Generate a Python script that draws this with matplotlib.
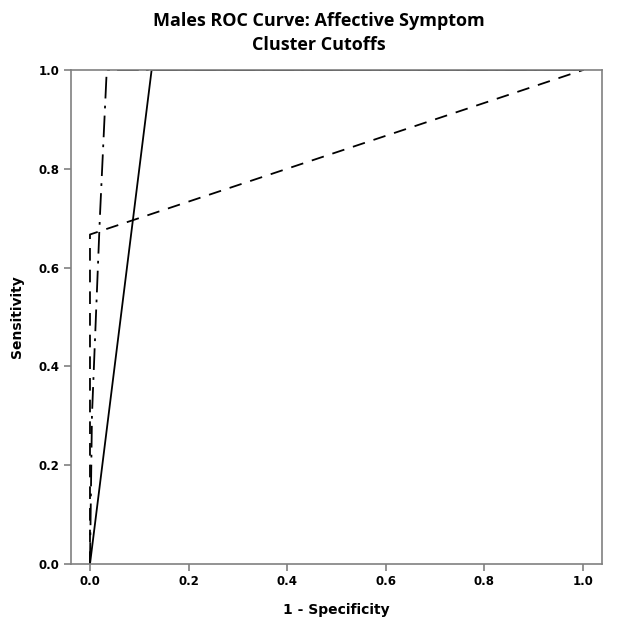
import matplotlib
matplotlib.use("Agg")
import matplotlib.pyplot as plt

# ROC curves (1 - specificity, sensitivity)
solid_x = [0.0, 0.125, 1.0]
solid_y = [0.0, 1.0, 1.0]
dashed_x = [0.0, 0.0, 1.0]
dashed_y = [0.0, 0.667, 1.0]
dashdot_x = [0.0, 0.004, 0.020, 0.034, 1.0]
dashdot_y = [0.0, 0.30, 0.70, 1.0, 1.0]

ticks = [0.0, 0.2, 0.4, 0.6, 0.8, 1.0]
tick_labels = ["0.0", "0.2", "0.4", "0.6", "0.8", "1.0"]

fig = plt.figure(figsize=(6.38, 6.24), dpi=100)
ax = fig.add_axes([71/638, 1-564/624, (602-71)/638, (564-70)/624])

ax.plot(dashed_x, dashed_y, color="black", lw=1.3, linestyle=(0, (7, 5)))
ax.plot(dashdot_x, dashdot_y, color="black", lw=1.3, linestyle=(0, (12, 4, 1.5, 4)))
ax.plot(solid_x, solid_y, color="black", lw=1.3, linestyle="-")

ax.set_xlim(-0.0385, 1.0385)
ax.set_ylim(0, 1)
ax.set_xticks(ticks)
ax.set_xticklabels(tick_labels)
ax.set_yticks(ticks)
ax.set_yticklabels(tick_labels)

for s in ax.spines.values():
    s.set_color("#808080")
    s.set_linewidth(1.2)
ax.tick_params(axis="both", colors="#808080", length=5, width=1.2, labelcolor="black",
               labelsize=8.5)
ax.tick_params(axis="x", pad=3)
for lab in ax.get_xticklabels() + ax.get_yticklabels():
    lab.set_fontweight("bold")
    lab.set_family("DejaVu Sans")

ax.set_xlabel("1 - Specificity", fontsize=10, fontweight="bold", labelpad=11)
ax.set_ylabel("Sensitivity", fontsize=10, fontweight="bold", labelpad=10)

fig.text(0.5, 1-33/624, "Males ROC Curve: Affective Symptom\nCluster Cutoffs",
         ha="center", va="center", fontsize=13, fontweight="bold",
         family="Open Sans", linespacing=1.4)

fig.savefig("out.png", dpi=100)
